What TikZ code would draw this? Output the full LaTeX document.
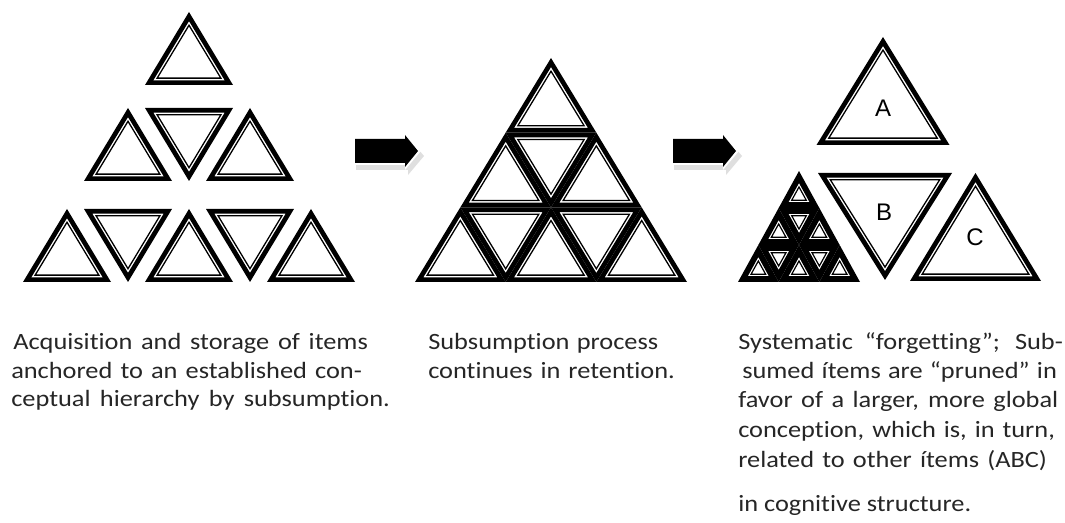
\documentclass[tikz,border=0pt]{standalone}
\usepackage{fontspec}
\setmainfont{Carlito}[Ligatures=NoCommon, FakeStretch=1.13]
\newfontfamily\arialf{Liberation Sans}

\def\kT{4.7}\def\kG{1.5}\def\kt{1.3}
% \ktri{cx}{y of base}{half width}{signed height: >0 apex above base, <0 apex below}
\newcommand{\ktri}[4]{%
  \pgfmathsetmacro{\kS}{sqrt((#3)*(#3)+(#4)*(#4))}%
  \pgfmathsetmacro{\kR}{(#3)*abs(#4)/((#3)+\kS)}%
  \pgfmathsetmacro{\kIy}{(#2)-\kR*(#4)/abs(#4)}%
  \pgfmathsetmacro{\kAy}{(#2)-(#4)}%
  \pgfmathsetmacro{\kA}{(\kR-\kT/2)/\kR}%
  \pgfmathsetmacro{\kB}{(\kR-\kT-\kG-\kt/2)/\kR}%
  \pgfmathsetmacro{\kxl}{(#1)-\kA*(#3)}%
  \pgfmathsetmacro{\kxr}{(#1)+\kA*(#3)}%
  \pgfmathsetmacro{\kyb}{\kIy+\kA*((#2)-\kIy)}%
  \pgfmathsetmacro{\kya}{\kIy+\kA*(\kAy-\kIy)}%
  \pgfmathsetmacro{\kLW}{\kT*0.75}%
  \draw[line width=\kLW pt] (\kxl,\kyb) -- (\kxr,\kyb) -- (#1,\kya) -- cycle;
  \pgfmathsetmacro{\kxl}{(#1)-\kB*(#3)}%
  \pgfmathsetmacro{\kxr}{(#1)+\kB*(#3)}%
  \pgfmathsetmacro{\kyb}{\kIy+\kB*((#2)-\kIy)}%
  \pgfmathsetmacro{\kya}{\kIy+\kB*(\kAy-\kIy)}%
  \pgfmathsetmacro{\kLW}{\kt*0.75}%
  \draw[line width=\kLW pt] (\kxl,\kyb) -- (\kxr,\kyb) -- (#1,\kya) -- cycle;
}
% \kgroup{cx}{apex y}{half width}{height}: triangle split into 9
\newcommand{\kgroup}[4]{%
  \pgfmathsetmacro{\kqw}{(#3)/3}\pgfmathsetmacro{\kqh}{(#4)/3}%
  \foreach \i in {0,1,2}{%
    \pgfmathsetmacro{\kqtop}{(#2)+\i*\kqh}%
    \pgfmathsetmacro{\kqbase}{\kqtop+\kqh}%
    \foreach \j in {0,...,\i}{%
      \pgfmathsetmacro{\kqx}{(#1)+(2*\j-\i)*\kqw}%
      \ktri{\kqx}{\kqbase}{\kqw}{\kqh}%
    }%
    \ifnum\i>0
    \foreach \j in {1,...,\i}{%
      \pgfmathsetmacro{\kqx}{(#1)+(2*\j-1-\i)*\kqw}%
      \ktri{\kqx}{\kqtop}{\kqw}{-\kqh}%
    }%
    \fi
  }%
}
% \karrow{left x}{centre y}
\newcommand{\karrow}[2]{%
  \fill[gray!25, shift={(3,5)}] (#1-2,#2-14) -- (#1+50,#2-14) -- (#1+50,#2-19) -- (#1+66,#2) -- (#1+50,#2+19) -- (#1+50,#2+14) -- (#1-2,#2+14) -- cycle;
  \fill[white] (#1-2,#2-14) -- (#1+50,#2-14) -- (#1+50,#2-19) -- (#1+66,#2) -- (#1+50,#2+19) -- (#1+50,#2+14) -- (#1-2,#2+14) -- cycle;
  \fill[black] (#1,#2-12) -- (#1+50,#2-12) -- (#1+50,#2-16) -- (#1+63,#2) -- (#1+50,#2+16) -- (#1+50,#2+12) -- (#1,#2+12) -- cycle;
}
\newcommand{\jline}[2]{\makebox[#1pt][s]{#2}}

\tikzset{
  desc/.style={anchor=base west, inner sep=0pt, font=\fontsize{17.5}{20}\selectfont, text=black!85},
  letter/.style={inner sep=0pt, font=\arialf\fontsize{18}{20}\selectfont}
}

\begin{document}
\begin{tikzpicture}[x=0.75pt, y=-0.75pt, line join=miter, miter limit=10]
\useasboundingbox (0,0) rectangle (1065,523);
\fill[white] (0,0) rectangle (1065,523);

% left group
\ktri{189}{85}{44}{73}
\ktri{128}{181}{44}{73}
\ktri{189}{108}{44}{-73}
\ktri{250}{181}{44}{73}
\ktri{67}{282}{44}{73}
\ktri{128}{209}{44}{-73}
\ktri{189}{282}{44}{73}
\ktri{250}{209}{44}{-73}
\ktri{311}{282}{44}{73}

% arrows
\karrow{355}{151}
\karrow{673}{151}

% middle group
\kgroup{551}{58}{136}{224}

% right group
\def\kT{5.8}\def\kG{1.3}\def\kt{1.2}
\kgroup{799}{171}{61}{111}
\def\kT{4.7}\def\kG{1.5}\def\kt{1.3}
\ktri{883}{145}{66.5}{108}
\ktri{885}{173}{67}{-107}
\ktri{975.5}{281}{65.5}{108}
\node[letter] (la) at (883,108) {A};
\node[letter] (lb) at (884,212) {B};
\node[letter] (lc) at (975,237) {C};

% texts (widths in pt = px*0.75)
\node[desc] (t1a) at (13,350) {\jline{266}{Acquisition and storage of items}};
\node[desc] (t1b) at (11,378.5) {\jline{263}{anchored to an established con-}};
\node[desc] (t1c) at (11,407) {\jline{284}{ceptual hierarchy by subsumption.}};
\node[desc] (t2a) at (428,350) {\jline{172.5}{Subsumption process}};
\node[desc] (t2b) at (428,378.5) {\jline{185}{continues in retention.}};
\node[desc] (t3a) at (738,350) {\jline{243.5}{Systematic “forgetting”; Sub-}};
\node[desc] (t3b) at (742,378.5) {\jline{236}{sumed ítems are “pruned” in}};
\node[desc] (t3c) at (738,408) {\jline{240}{favor of a larger, more global}};
\node[desc] (t3d) at (738,438) {\jline{237.5}{conception, which is, in turn,}};
\node[desc] (t3e) at (738,468) {\jline{231.5}{related to other ítems (ABC)}};
\node[desc] (t3f) at (738,512) {in cognitive structure.};
\end{tikzpicture}
\end{document}
